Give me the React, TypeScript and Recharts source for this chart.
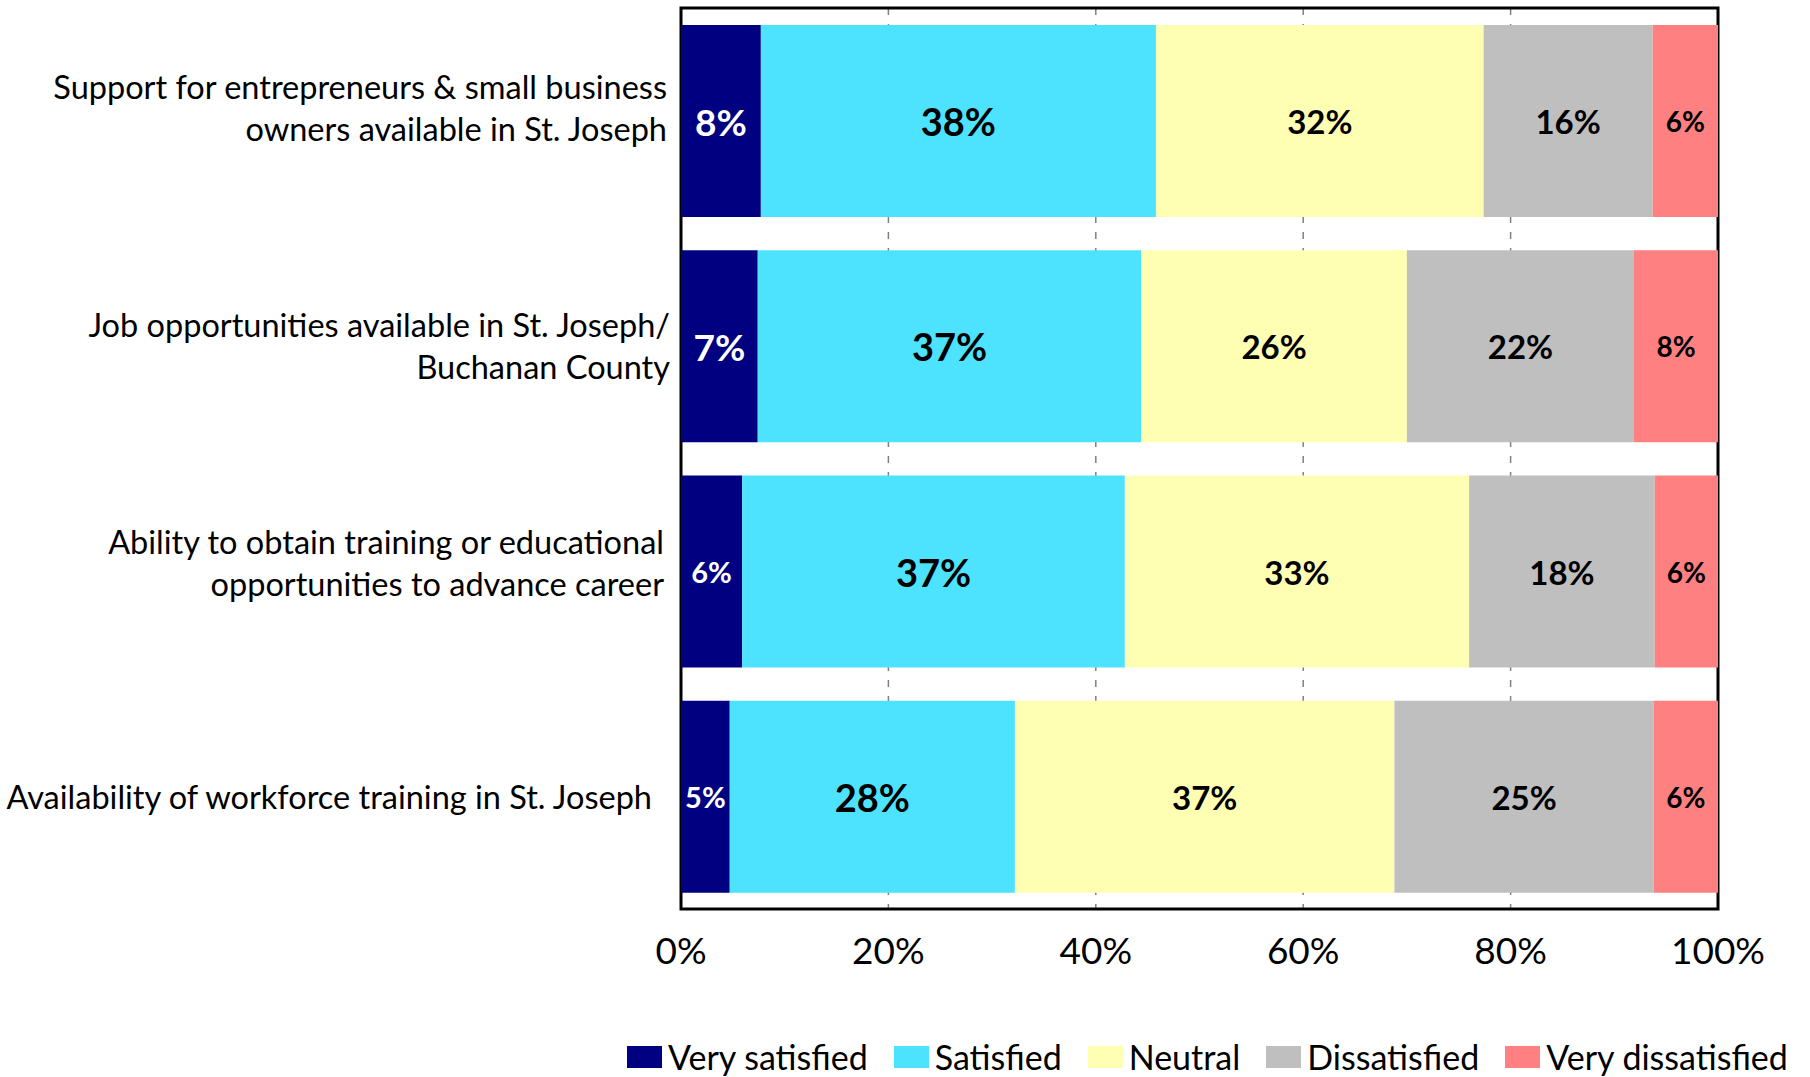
import {
	Bar,
	BarChart,
	CartesianGrid,
	LabelList,
	Legend,
	ReferenceArea,
	XAxis,
	YAxis,
} from 'recharts';

// category labels, already split into the lines used in the picture
const categoryLines = [
	['Support for entrepreneurs & small business', 'owners available in St. Joseph'],
	['Job opportunities available in St. Joseph/', 'Buchanan County'],
	['Ability to obtain training or educational', 'opportunities to advance career'],
	['Availability of workforce training in St. Joseph'],
];

const verySatisfied = [7.7, 7.4, 5.9, 4.7];
const satisfied = [38.1, 37.0, 36.9, 27.5];
const neutral = [31.6, 25.6, 33.2, 36.6];
const dissatisfied = [16.3, 21.9, 17.9, 25.0];
const veryDissatisfied = [6.3, 8.1, 6.1, 6.2];

const xTicks = [0, 20, 40, 60, 80, 100];

// small vertical nudges for the wrapped labels (excel doesn't centre them exactly)
const labelNudge = [-13, 0, -9, 0];
const labelRight = [0, -3, 3, 15];

const FONT = 'Lato, "Open Sans", sans-serif';

const series = [
	{ key: 'verySatisfied', name: 'Very satisfied', color: '#000080', text: '#FFFFFF', size: 37 },
	{ key: 'satisfied', name: 'Satisfied', color: '#4DE3FE', text: '#000000', size: 38 },
	{ key: 'neutral', name: 'Neutral', color: '#FFFFB3', text: '#000000', size: 33 },
	{ key: 'dissatisfied', name: 'Dissatisfied', color: '#BFBFBF', text: '#000000', size: 33 },
	{ key: 'veryDissatisfied', name: 'Very dissatisfied', color: '#FF8080', text: '#000000', size: 28 },
];

const data = categoryLines.map((lines, i) => ({
	category: lines.join(' '),
	verySatisfied: verySatisfied[i],
	satisfied: satisfied[i],
	neutral: neutral[i],
	dissatisfied: dissatisfied[i],
	veryDissatisfied: veryDissatisfied[i],
}));

const CategoryTick = (props: any) => {
	const { x, y, payload } = props;
	const idx = payload.index;
	const lines = categoryLines[idx] || [String(payload.value)];
	const lineHeight = 42;
	const startDy = -((lines.length - 1) * lineHeight) / 2 + (labelNudge[idx] || 0);
	const tx = x - (labelRight[idx] || 0);
	return (
		<text
			x={tx}
			y={y}
			textAnchor='end'
			fill='#000'
			fontSize={32.5}
			fontFamily={FONT}>
			{lines.map((line, i) => (
				<tspan
					key={i}
					x={tx}
					dy={i === 0 ? startDy : lineHeight}
					dominantBaseline='central'>
					{line}
				</tspan>
			))}
		</text>
	);
};

const PercentTick = (props: any) => {
	const { x, y, payload } = props;
	return (
		<text
			x={x}
			y={y + 40}
			textAnchor='middle'
			dominantBaseline='central'
			fill='#000'
			fontSize={37}
			fontFamily={FONT}>
			{`${payload.value}%`}
		</text>
	);
};

const makeLabel = (color: string, size: number, shrink: boolean) => (props: any) => {
	const { x, y, width, height, value } = props;
	if (value === undefined || value === null) return null;
	const fontSize = shrink && width < 70 ? 29 : size;
	return (
		<text
			x={x + width / 2}
			y={y + height / 2}
			textAnchor='middle'
			dominantBaseline='central'
			fill={color}
			fontSize={fontSize}
			fontWeight={700}
			fontFamily={FONT}>
			{`${Math.round(value)}%`}
		</text>
	);
};

const LegendContent = () => (
	<div
		style={{
			display: 'flex',
			alignItems: 'center',
			fontFamily: FONT,
			fontSize: 34,
			lineHeight: '40px',
			color: '#000',
			whiteSpace: 'nowrap',
		}}>
		{series.map((s) => (
			<div
				key={s.key}
				style={{ display: 'flex', alignItems: 'center', marginRight: 26 }}>
				<span
					style={{
						display: 'inline-block',
						width: 35,
						height: 22,
						background: s.color,
						marginRight: 6,
					}}
				/>
				<span>{s.name}</span>
			</div>
		))}
	</div>
);

export default function App() {
	return (
		<div style={{ position: 'absolute', left: 0, top: 0, width: 1810, height: 1077, fontFamily: FONT }}>
			<BarChart
				width={1810}
				height={1077}
				data={data}
				layout='vertical'
				barSize={192}
				margin={{ top: 8, right: 92, left: 0, bottom: 0 }}>
				<CartesianGrid
					horizontal={false}
					stroke='#808080'
					strokeWidth={1.5}
					strokeDasharray='7 9'
				/>
				<XAxis
					type='number'
					domain={[0, 100]}
					ticks={xTicks}
					interval={0}
					axisLine={false}
					tickLine={false}
					tickSize={0}
					tickMargin={0}
					height={128}
					tick={<PercentTick />}
				/>
				<YAxis
					type='category'
					dataKey='category'
					width={681}
					axisLine={false}
					tickLine={false}
					tickSize={0}
					tickMargin={14}
					interval={0}
					tick={<CategoryTick />}
				/>
				<Legend
					verticalAlign='bottom'
					content={<LegendContent />}
					wrapperStyle={{ left: 627, top: 1037, width: 'auto', height: 40 }}
				/>
				{series.map((s) => (
					<Bar
						key={s.key}
						dataKey={s.key}
						name={s.name}
						stackId='a'
						fill={s.color}
						isAnimationActive={false}>
						<LabelList
							dataKey={s.key}
							content={makeLabel(s.text, s.size, s.key === 'verySatisfied')}
						/>
					</Bar>
				))}
				<ReferenceArea
					x1={0}
					x2={100}
					fill='none'
					stroke='#000'
					strokeWidth={3}
				/>
			</BarChart>
		</div>
	);
}
